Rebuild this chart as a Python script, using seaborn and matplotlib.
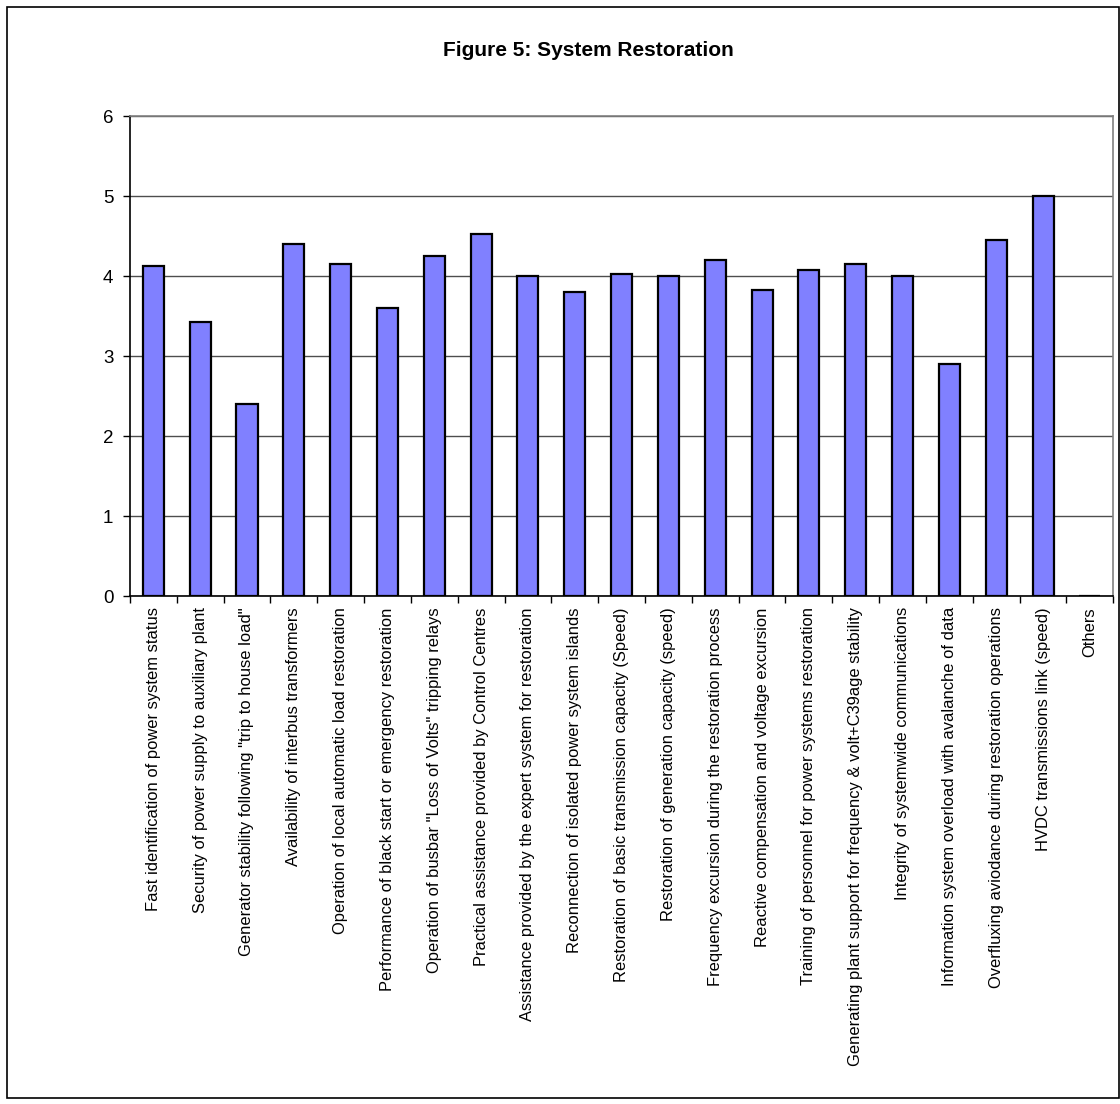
import matplotlib
matplotlib.use("Agg")
import matplotlib.pyplot as plt
import seaborn as sns
import pandas as pd
import numpy as np
from matplotlib.patches import Rectangle

categories = [
    "Fast identification of power system status",
    "Security of power supply to auxiliary plant",
    'Generator stability following "trip to house load"',
    "Availability of interbus transformers",
    "Operation of local automatic load restoration",
    "Performance of black start or emergency restoration",
    'Operation of busbar "Loss of Volts" tripping relays',
    "Practical assistance provided by Control Centres",
    "Assistance provided by the expert system for restoration",
    "Reconnection of isolated power system islands",
    "Restoration of basic transmission capacity (Speed)",
    "Restoration of generation capacity (speed)",
    "Frequency excursion during the restoration process",
    "Reactive compensation and voltage excursion",
    "Training of personnel for power systems restoration",
    "Generating plant support for frequency & volt+C39age stability",
    "Integrity of systemwide communications",
    "Information system overload with avalanche of data",
    "Overfluxing aviodance during restoration operations",
    "HVDC transmissions link (speed)",
    "Others",
]
scores = [4.13, 3.43, 2.40, 4.40, 4.15, 3.60, 4.25, 4.52, 4.00, 3.80,
          4.02, 4.00, 4.20, 3.82, 4.07, 4.15, 4.00, 2.90, 4.45, 5.00, 0.0]
y_ticks = [0, 1, 2, 3, 4, 5, 6]
title = "Figure 5: System Restoration"

df = pd.DataFrame({"item": categories, "score": scores})

sns.set_style("white")
plt.rcParams["font.family"] = ["Liberation Sans", "DejaVu Sans"]

fig = plt.figure(figsize=(11.2, 11.04), dpi=100)
ax = fig.add_axes([0.116, 0.4601, 0.878, 0.4348])

sns.barplot(data=df, x="item", y="score", order=categories, color="#8080FF",
            saturation=1, width=0.45, edgecolor="black", linewidth=1.6, ax=ax,
            zorder=3)

ax.set_ylim(0, 6)
ax.set_xlim(-0.5, len(categories) - 0.5)
ax.set_yticks(y_ticks)
ax.set_yticklabels([str(t) for t in y_ticks], fontsize=13.5, color="black")
ax.yaxis.grid(True, color="#4d4d4d", linewidth=1.0, zorder=0)
ax.set_axisbelow(True)
ax.set_xlabel("")
ax.set_ylabel("")

# category labels, rotated, in a condensed face
ax.set_xticks(range(len(categories)))
ax.set_xticklabels(categories, rotation=90, ha="center", va="top",
                   fontsize=11.9, color="black",
                   family=["Liberation Sans Narrow", "Liberation Sans"])
ax.tick_params(axis="x", which="major", bottom=True, length=0, pad=8)

# tick marks sit on the category boundaries
ax.set_xticks(np.arange(-0.5, len(categories), 1.0), minor=True)
ax.tick_params(axis="x", which="minor", bottom=True, length=5, width=1,
               color="black", direction="out")
ax.tick_params(axis="y", which="major", left=True, length=5, width=1,
               color="black", direction="out", pad=7)

for side in ["left", "bottom"]:
    ax.spines[side].set_color("black")
    ax.spines[side].set_linewidth(1.2)
for side in ["top", "right"]:
    ax.spines[side].set_visible(True)
    ax.spines[side].set_color("#808080")
    ax.spines[side].set_linewidth(1.2)

fig.text(588 / 1120, 1 - 50 / 1104, title, ha="center", va="center",
         fontsize=15, fontweight="bold", color="black")

# outer chart frame
fig.patches.append(Rectangle((7 / 1120, 6 / 1104), 1 - 8 / 1120, 1 - 13 / 1104,
                             transform=fig.transFigure, fill=False,
                             edgecolor="black", linewidth=1.2))

fig.savefig("out.png", dpi=100, facecolor="white")
